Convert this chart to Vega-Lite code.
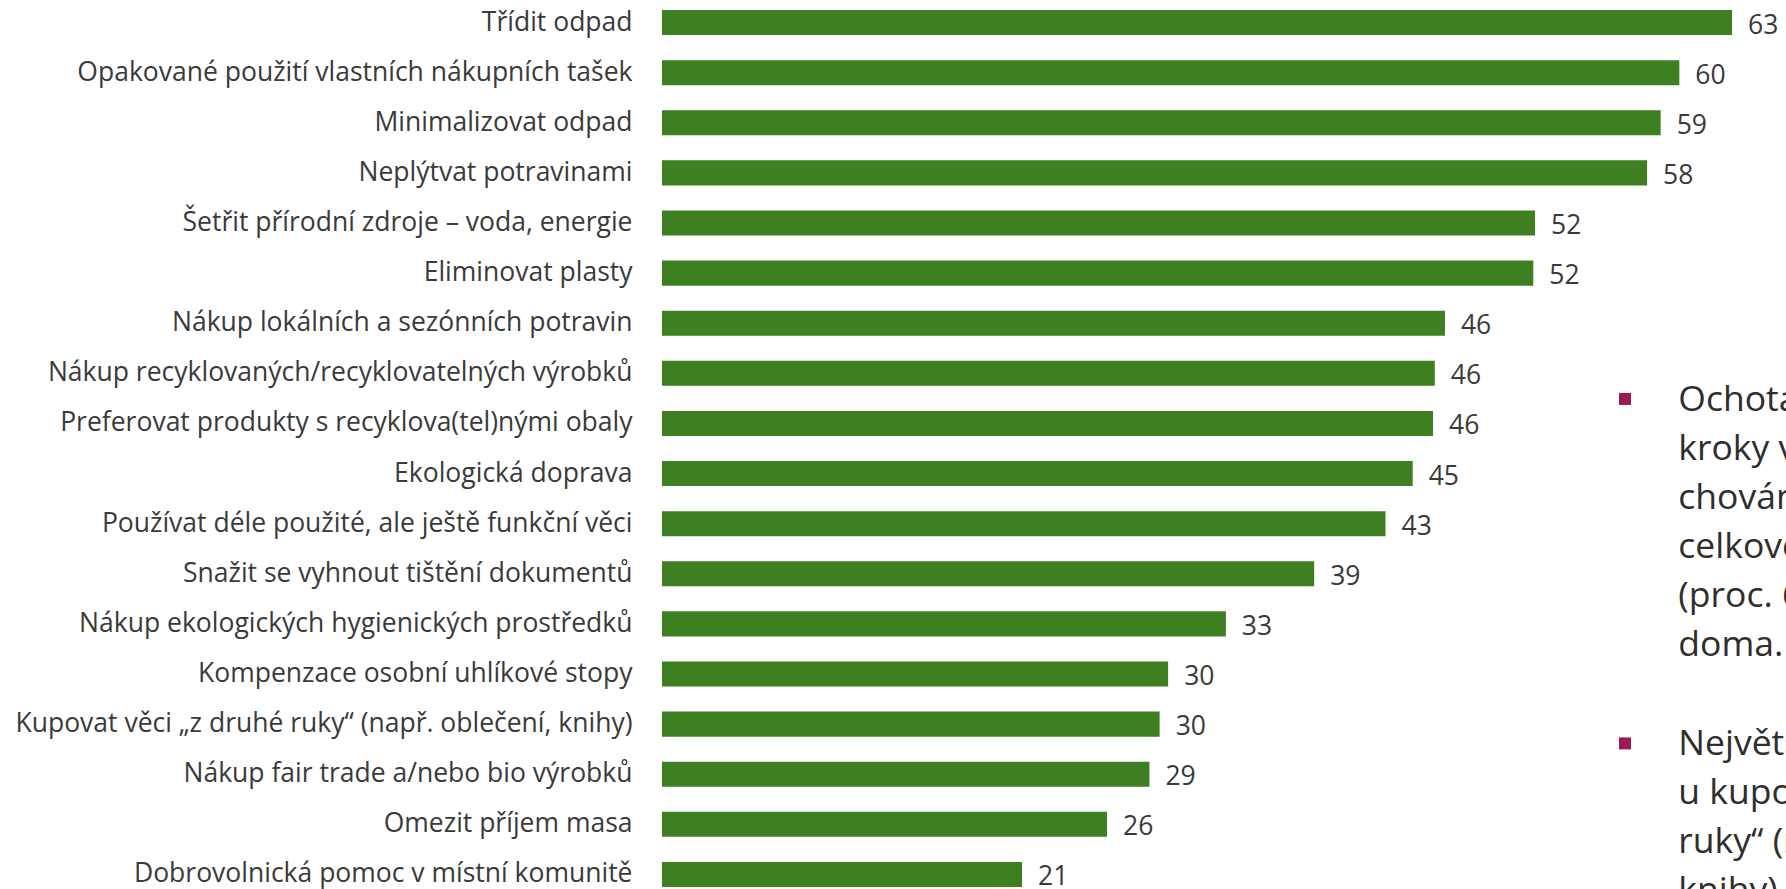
{
  "$schema": "https://vega.github.io/schema/vega-lite/v6.json",
  "width": 1070,
  "height": 897,
  "autosize": {"type": "none"},
  "padding": {"left": 662, "top": 0, "right": 54, "bottom": 0},
  "background": "#ffffff",
  "config": {"view": {"stroke": null}, "font": "Open Sans"},
  "datasets": {
    "main": [
      {"activity": "Třídit odpad", "value": 63.0, "label": "63"},
      {"activity": "Opakované použití vlastních nákupních tašek", "value": 59.9, "label": "60"},
      {"activity": "Minimalizovat odpad", "value": 58.8, "label": "59"},
      {"activity": "Neplýtvat potravinami", "value": 58.0, "label": "58"},
      {"activity": "Šetřit přírodní zdroje – voda, energie", "value": 51.4, "label": "52"},
      {"activity": "Eliminovat plasty", "value": 51.3, "label": "52"},
      {"activity": "Nákup lokálních a sezónních potravin", "value": 46.1, "label": "46"},
      {"activity": "Nákup recyklovaných/recyklovatelných výrobků", "value": 45.5, "label": "46"},
      {"activity": "Preferovat produkty s recyklova(tel)nými obaly", "value": 45.4, "label": "46"},
      {"activity": "Ekologická doprava", "value": 44.2, "label": "45"},
      {"activity": "Používat déle použité, ale ještě funkční věci", "value": 42.6, "label": "43"},
      {"activity": "Snažit se vyhnout tištění dokumentů", "value": 38.4, "label": "39"},
      {"activity": "Nákup ekologických hygienických prostředků", "value": 33.2, "label": "33"},
      {"activity": "Kompenzace osobní uhlíkové stopy", "value": 29.8, "label": "30"},
      {"activity": "Kupovat věci „z druhé ruky“ (např. oblečení, knihy)", "value": 29.3, "label": "30"},
      {"activity": "Nákup fair trade a/nebo bio výrobků", "value": 28.7, "label": "29"},
      {"activity": "Omezit příjem masa", "value": 26.2, "label": "26"},
      {"activity": "Dobrovolnická pomoc v místní komunitě", "value": 21.2, "label": "21"}
    ],
    "notes": [
      {"para": 1, "text": "Ochota podniknout konkrétní\nkroky v rámci ekologického\nchování je ve společnosti\ncelkově poměrně vysoká\n(proc. 63 % třídí odpad\ndoma."},
      {"para": 2, "text": "Největší rozdíly jsou\nu kupování věcí „z druhé\nruky“ (např. oblečení,\nknihy) a u nákupu"}
    ]
  },
  "layer": [
    {
      "data": {"name": "main"},
      "mark": {"type": "bar", "color": "#3E7F22"},
      "encoding": {
        "y": {
          "field": "activity", "type": "nominal", "sort": null,
          "scale": {
            "domain": ["Třídit odpad", "Opakované použití vlastních nákupních tašek", "Minimalizovat odpad", "Neplýtvat potravinami", "Šetřit přírodní zdroje – voda, energie", "Eliminovat plasty", "Nákup lokálních a sezónních potravin", "Nákup recyklovaných/recyklovatelných výrobků", "Preferovat produkty s recyklova(tel)nými obaly", "Ekologická doprava", "Používat déle použité, ale ještě funkční věci", "Snažit se vyhnout tištění dokumentů", "Nákup ekologických hygienických prostředků", "Kompenzace osobní uhlíkové stopy", "Kupovat věci „z druhé ruky“ (např. oblečení, knihy)", "Nákup fair trade a/nebo bio výrobků", "Omezit příjem masa", "Dobrovolnická pomoc v místní komunitě"],
            "paddingInner": 0.5, "paddingOuter": 0.2
          },
          "axis": {"title": null, "ticks": false, "domain": false, "grid": false, "labelPadding": 30, "labelFontSize": 26.5, "labelFont": "Open Sans", "labelColor": "#3A3A3A", "labelLimit": 800}
        },
        "x": {"field": "value", "type": "quantitative", "scale": {"domain": [0, 63], "nice": false, "zero": true}, "axis": null}
      }
    },
    {
      "data": {"name": "main"},
      "mark": {"type": "text", "align": "left", "baseline": "middle", "dx": 16, "dy": 3, "fontSize": 26.5, "font": "Open Sans", "color": "#3A3A3A"},
      "encoding": {
        "y": {"field": "activity", "type": "nominal", "sort": null},
        "x": {"field": "value", "type": "quantitative"},
        "text": {"field": "label"}
      }
    },
    {
      "data": {"name": "notes"},
      "transform": [{"filter": "datum.para == 1"}],
      "mark": {"type": "text", "align": "left", "baseline": "alphabetic", "lineBreak": "\n", "lineHeight": 49, "fontSize": 35.5, "font": "Open Sans", "color": "#2E2E2E", "dy": -12.5},
      "encoding": {
        "x": {"datum": 59.84, "type": "quantitative"},
        "y": {"datum": "Preferovat produkty s recyklova(tel)nými obaly", "type": "nominal"},
        "text": {"field": "text"}
      }
    },
    {
      "data": {"name": "notes"},
      "transform": [{"filter": "datum.para == 1"}],
      "mark": {"type": "square", "size": 144, "color": "#9B1B57", "opacity": 1, "yOffset": -24.5},
      "encoding": {
        "x": {"datum": 56.7, "type": "quantitative"},
        "y": {"datum": "Preferovat produkty s recyklova(tel)nými obaly", "type": "nominal"}
      }
    },
    {
      "data": {"name": "notes"},
      "transform": [{"filter": "datum.para == 2"}],
      "mark": {"type": "text", "align": "left", "baseline": "alphabetic", "lineBreak": "\n", "lineHeight": 49, "fontSize": 35.5, "font": "Open Sans", "color": "#2E2E2E", "dy": 31},
      "encoding": {
        "x": {"datum": 59.84, "type": "quantitative"},
        "y": {"datum": "Kupovat věci „z druhé ruky“ (např. oblečení, knihy)", "type": "nominal"},
        "text": {"field": "text"}
      }
    },
    {
      "data": {"name": "notes"},
      "transform": [{"filter": "datum.para == 2"}],
      "mark": {"type": "square", "size": 144, "color": "#9B1B57", "opacity": 1, "yOffset": 19.3},
      "encoding": {
        "x": {"datum": 56.7, "type": "quantitative"},
        "y": {"datum": "Kupovat věci „z druhé ruky“ (např. oblečení, knihy)", "type": "nominal"}
      }
    }
  ]
}
